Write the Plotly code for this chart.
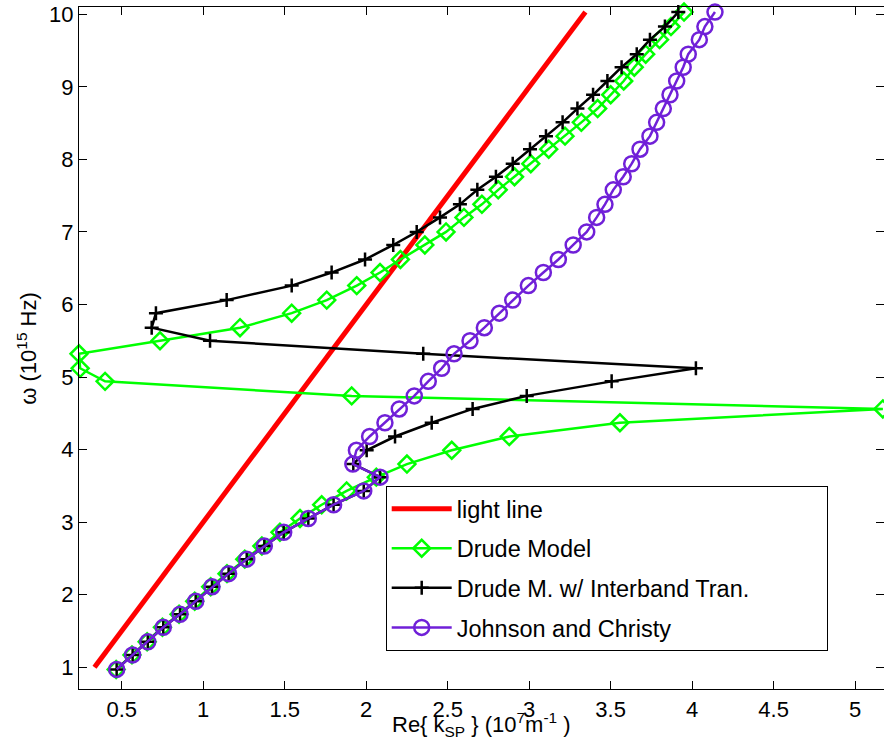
import plotly.graph_objects as go

# angular frequency grid (10^15 rad/s) shared by all computed series
omega = [0.97, 1.17, 1.35, 1.55, 1.73, 1.91, 2.11, 2.29, 2.49, 2.67,
         2.86, 3.05, 3.24, 3.43, 3.62, 3.80, 3.99, 4.18, 4.37, 4.56,
         4.74, 4.94, 5.12, 5.32, 5.50, 5.68, 5.88, 6.06, 6.26, 6.44,
         6.62, 6.82, 7.00, 7.20, 7.38, 7.58, 7.76, 7.94, 8.14, 8.32,
         8.51, 8.70, 8.89, 9.08, 9.27, 9.45, 9.65, 9.83, 10.03]

# light line endpoints
light_omega = [1.0, 10.03]
light_k = [0.333, 3.345]

# Drude model Re{k_SP} (10^7 m^-1)
drude_k = [0.466, 0.563, 0.656, 0.750, 0.852, 0.948, 1.046, 1.146, 1.255, 1.360,
           1.471, 1.594, 1.727, 1.880, 2.062, 2.250, 2.525, 2.878, 3.557, 5.170,
           1.911, 0.398, 0.245, 0.238, 0.735, 1.226, 1.543, 1.758, 1.942, 2.085,
           2.210, 2.360, 2.490, 2.600, 2.710, 2.810, 2.910, 3.010, 3.120, 3.220,
           3.320, 3.420, 3.500, 3.580, 3.645, 3.715, 3.800, 3.870, 3.950]

# Drude model with interband transitions
inter_k = [0.469, 0.567, 0.660, 0.755, 0.858, 0.954, 1.054, 1.156, 1.267, 1.375,
           1.494, 1.645, 1.800, 1.985, 2.085, 1.921, 2.003, 2.177, 2.402, 2.653,
           2.985, 3.506, 4.023, 2.350, 1.042, 0.684, 0.710, 1.144, 1.543, 1.788,
           1.993, 2.166, 2.310, 2.453, 2.575, 2.682, 2.796, 2.899, 3.005, 3.103,
           3.205, 3.296, 3.392, 3.480, 3.567, 3.660, 3.741, 3.833, 3.915]

# Johnson and Christy data
jc_k = [0.469, 0.567, 0.660, 0.755, 0.858, 0.954, 1.054, 1.156, 1.267, 1.375,
        1.494, 1.645, 1.800, 1.985, 2.085, 1.918, 1.940, 2.021, 2.115, 2.203,
        2.295, 2.381, 2.463, 2.539, 2.637, 2.725, 2.817, 2.899, 2.995, 3.087,
        3.179, 3.270, 3.353, 3.414, 3.465, 3.516, 3.577, 3.629, 3.680, 3.741,
        3.782, 3.823, 3.864, 3.905, 3.945, 3.976, 4.044, 4.078, 4.140]

x_ticks = [0.5, 1, 1.5, 2, 2.5, 3, 3.5, 4, 4.5, 5]
x_ticktext = ["0.5", "1", "1.5", "2", "2.5", "3", "3.5", "4", "4.5", "5"]
y_ticks = [1, 2, 3, 4, 5, 6, 7, 8, 9, 10]

FONT = "Liberation Sans, Arial, Helvetica, sans-serif"
GREEN = "#00FF00"
PURPLE = "#7020D8"
PAD = "\u00a0" * 11

fig = go.Figure()
fig.add_trace(go.Scatter(x=light_k, y=light_omega, mode="lines", name="light line",
                         line=dict(color="#FF0000", width=5), legendgroup="a"))
fig.add_trace(go.Scatter(x=drude_k, y=omega, mode="lines+markers", name="Drude Model",
                         line=dict(color=GREEN, width=2.5), cliponaxis=False,
                         marker=dict(symbol="diamond-open", size=13, color=GREEN,
                                     line=dict(width=2.5, color=GREEN)), legendgroup="b"))
fig.add_trace(go.Scatter(x=inter_k, y=omega, mode="lines+markers",
                         name="Drude M. w/ Interband Tran." + PAD,
                         line=dict(color="#000000", width=2.5), cliponaxis=False,
                         marker=dict(symbol="cross-thin", size=10, color="#000000",
                                     line=dict(width=2.5, color="#000000")), legendgroup="c"))
fig.add_trace(go.Scatter(x=jc_k, y=omega, mode="lines+markers", name="Johnson and Christy",
                         line=dict(color=PURPLE, width=2.5), cliponaxis=False,
                         marker=dict(symbol="circle-open", size=15, color=PURPLE,
                                     line=dict(width=2.5, color=PURPLE)), legendgroup="d"))

axis_common = dict(showline=True, linecolor="#000000", linewidth=1, mirror="ticks",
                   ticks="inside", ticklen=8, tickwidth=1, tickcolor="#000000",
                   showgrid=False, zeroline=False,
                   tickfont=dict(family=FONT, size=22, color="#000000"))

fig.update_layout(
    width=884, height=749,
    margin=dict(l=79, r=0, t=7, b=60),
    paper_bgcolor="white", plot_bgcolor="white",
    font=dict(family=FONT, color="#000000"),
    xaxis=dict(range=[0.238, 5.177], tickvals=x_ticks, ticktext=x_ticktext,
               ticklabelstandoff=1, **axis_common),
    yaxis=dict(range=[0.70, 10.10], tickvals=y_ticks, **axis_common),
    showlegend=True,
    legend=dict(x=0.381, y=0.2977, xanchor="left", yanchor="top",
                bordercolor="#000000", borderwidth=1, bgcolor="white",
                font=dict(family=FONT, size=23.5, color="#000000"),
                tracegroupgap=6, itemwidth=60),
    annotations=[
        dict(text="Re{ k<sub>SP</sub> } (10<sup>7</sup>m<sup>-1</sup> )",
             xref="paper", yref="paper", x=0.5, y=-0.027, xanchor="center", yanchor="top",
             showarrow=False, font=dict(family=FONT, size=22, color="#000000")),
        dict(text="ω (10<sup>15</sup> Hz)", textangle=-90,
             xref="paper", yref="paper", x=-0.045, y=0.5, xanchor="right", yanchor="middle",
             showarrow=False, font=dict(family=FONT, size=22, color="#000000")),
    ],
)

fig.write_html("out.html", config={"displayModeBar": False},
               post_script="document.body.style.margin='0';")
